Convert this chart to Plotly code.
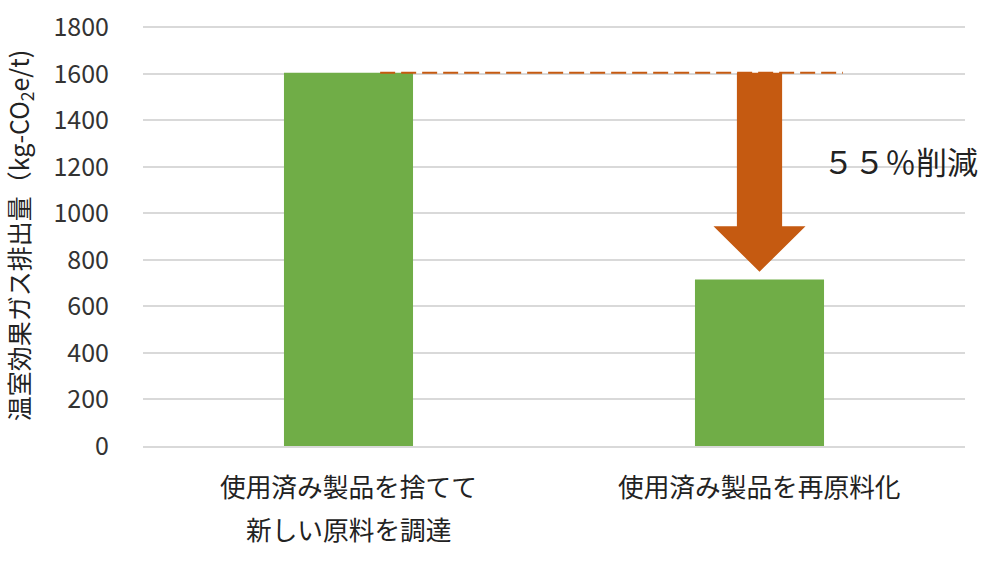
import plotly.graph_objects as go

categories = ["使用済み製品を捨てて\n新しい原料を調達", "使用済み製品を再原料化"]
values = [1605, 716]
y_ticks = [0, 200, 400, 600, 800, 1000, 1200, 1400, 1600, 1800]
reduction_label = "５５％削減"
y_title = "温室効果ガス排出量（kg-CO<sub>2</sub>e/t)"

GREEN = "#70AD47"
ORANGE = "#C55A11"
FONT = "Noto Sans CJK JP"

xs = list(range(len(categories)))

fig = go.Figure()
fig.add_trace(go.Bar(x=xs, y=values, width=0.314, marker=dict(color=GREEN, line=dict(width=0)),
                     hoverinfo="skip"))

# dashed reference line at first bar level
fig.add_shape(type="line", xref="x", yref="y", x0=xs[0] + 0.077, x1=xs[1] + 0.203,
              y0=values[0], y1=values[0], line=dict(color=ORANGE, width=2, dash="15px,6px"))

# reduction arrow
cx = xs[1]
top = values[0]
tip = values[1] + 33
base = tip + 196
sw, hw = 0.055, 0.112
path = (f"M {cx-sw},{top} L {cx+sw},{top} L {cx+sw},{base} L {cx+hw},{base} "
        f"L {cx},{tip} L {cx-hw},{base} L {cx-sw},{base} Z")
fig.add_shape(type="path", xref="x", yref="y", path=path, fillcolor=ORANGE, line=dict(width=0))

fig.add_annotation(x=1.15, y=1228, xref="x", yref="y", text=reduction_label, showarrow=False,
                   xanchor="left", yanchor="middle", font=dict(family=FONT, size=31, color="#222"))

M_T, M_B = 25, 118
PLOT_H = 564 - M_T - M_B
# category labels (two lines, wide line spacing)
for x, label in zip(xs, categories):
    for i, line in enumerate(label.split("\n")):
        fig.add_annotation(x=x, y=(-39 - 43 * i) / PLOT_H, xref="x", yref="paper",
                           text=line, showarrow=False, xanchor="center", yanchor="middle",
                           font=dict(family=FONT, size=25.7, color="#222"))

fig.update_layout(
    width=1000, height=564,
    margin=dict(l=143, r=35, t=M_T, b=M_B, autoexpand=False),
    paper_bgcolor="white", plot_bgcolor="white",
    showlegend=False,
    font=dict(family=FONT, size=20, color="#333"),
)
fig.update_xaxes(range=[-0.5, 1.5], showticklabels=False, showgrid=False, zeroline=False,
                 showline=True, linecolor="#d9d9d9", linewidth=1.5, fixedrange=True,
                 automargin=False)
fig.update_yaxes(range=[0, 1810], tickvals=y_ticks, ticktext=[str(v) for v in y_ticks],
                 showgrid=True, gridcolor="#d9d9d9", gridwidth=1.5, zeroline=False,
                 ticklabelstandoff=33, ticklabeloverflow="allow",
                 tickfont=dict(family=FONT, size=25, color="#333"),
                 title=dict(text=y_title, font=dict(family=FONT, size=25, color="#222"), standoff=20),
                 fixedrange=True, automargin=False)

fig.write_html("out.html", config={"displayModeBar": False},
               post_script="document.body.style.margin='0';")
